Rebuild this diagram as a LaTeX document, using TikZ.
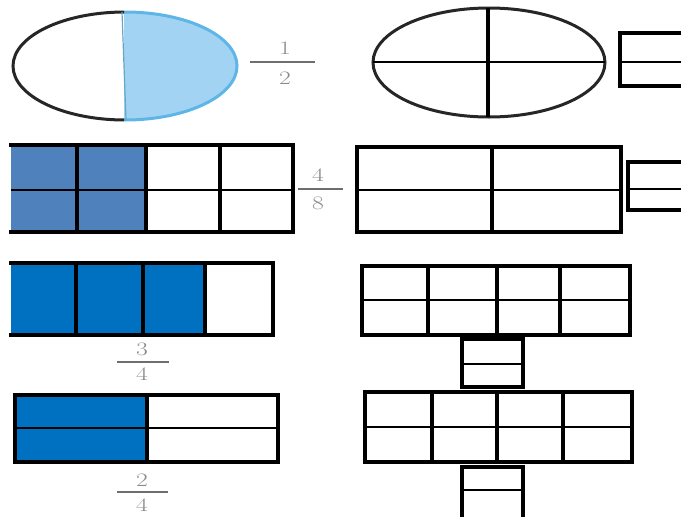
\documentclass[tikz,border=0pt]{standalone}
\definecolor{lightfill}{HTML}{A3D3F2}
\definecolor{lightline}{HTML}{5DB6E6}
\definecolor{steel}{HTML}{4F81BD}
\definecolor{strong}{HTML}{0070C0}
\definecolor{numgray}{HTML}{8A8A8A}
\tikzset{
  frame/.style={line width=4pt, line cap=rect},
  vbar/.style={line width=4.5pt},
  hbar/.style={line width=2.7pt},
  oval/.style={line width=3pt, draw=black!85},
  fracline/.style={line width=2pt, draw=numgray!80!black},
  digit/.style={text=numgray, font=\fontsize{19}{19}\selectfont, inner sep=0pt, xscale=1.35}
}
\begin{document}
\begin{tikzpicture}[x=1pt, y=-1pt]
\useasboundingbox (0,0) rectangle (681,517);
\clip (0,0) rectangle (681,517);

% ---- half-shaded ellipse ----
\begin{scope}
  \clip (124,0) rectangle (300,130);
  \fill[lightfill] (125,66) ellipse [x radius=112, y radius=54];
  \draw[line width=3pt, lightline] (125,66) ellipse [x radius=112, y radius=54];
\end{scope}
\begin{scope}
  \clip (0,0) rectangle (124,130);
  \draw[oval] (125,66) ellipse [x radius=112, y radius=54];
\end{scope}
\coordinate (d1) at (122,12);
\coordinate (d2) at (126,120);
\draw[line width=1.2pt, lightline!70!gray] (d1) -- (d2);
\draw[fracline] (250,62) -- (315,62);
\node[digit] (n12) at (285,48) {1};
\node[digit] (d12) at (285,78) {2};

% ---- quartered ellipse ----
\draw[oval] (489,62.5) ellipse [x radius=116, y radius=54.5];
\draw[vbar] (488,8) -- (488,117);
\draw[hbar] (373,62) -- (605,62);
% small box 1
\draw[frame] (690,33) -- (620,33) -- (620,86) -- (690,86);
\draw[hbar] (620,62) -- (690,62);

% ---- row 2 left: 4/8 ----
\fill[steel] (11,145) rectangle (146,232);
\draw[frame] (11,145) -- (293,145) -- (293,232) -- (11,232);
\foreach \x in {77,146,220} \draw[vbar] (\x,145) -- (\x,232);
\draw[hbar] (11,190) -- (293,190);
\draw[fracline] (298,189) -- (343,189);
\node[digit] (n48) at (318,175) {4};
\node[digit] (d48) at (318,203) {8};

% ---- row 2 right ----
\draw[frame] (357,147) rectangle (621,232);
\draw[vbar] (492,147) -- (492,232);
\draw[hbar] (357,190) -- (621,190);
\draw[frame] (690,162) -- (628,162) -- (628,210) -- (690,210);
\draw[hbar] (628,189) -- (690,189);

% ---- row 3 left: 3/4 ----
\fill[strong] (11,263) rectangle (205,335);
\draw[frame] (11,263) -- (273,263) -- (273,335) -- (11,335);
\foreach \x in {76,143,205} \draw[vbar] (\x,263) -- (\x,335);
\draw[fracline] (117,362) -- (169,362);
\node[digit] (n34) at (142,349) {3};
\node[digit] (d34) at (142,374) {4};

% ---- row 4 left: 2/4 ----
\fill[strong] (15,395) rectangle (147,462);
\draw[frame] (15,395) rectangle (278,462);
\draw[vbar] (147,395) -- (147,462);
\draw[hbar] (15,428) -- (278,428);
\draw[fracline] (117,492) -- (168,492);
\node[digit] (n24) at (142,480) {2};
\node[digit] (d24) at (142,505) {4};

% ---- row 3 right ----
\draw[frame] (362,266) rectangle (630,335);
\foreach \x in {428,497,560} \draw[vbar] (\x,266) -- (\x,335);
\draw[hbar] (362,300) -- (630,300);
\draw[frame] (462,339) rectangle (523,387);
\draw[hbar] (462,364) -- (523,364);

% ---- row 4 right ----
\draw[frame] (365,392) rectangle (632,462);
\foreach \x in {432,497,563} \draw[vbar] (\x,392) -- (\x,462);
\draw[hbar] (365,427) -- (632,427);
\draw[frame] (462,530) -- (462,467) -- (523,467) -- (523,530);
\draw[hbar] (462,490) -- (523,490);
\end{tikzpicture}
\end{document}
